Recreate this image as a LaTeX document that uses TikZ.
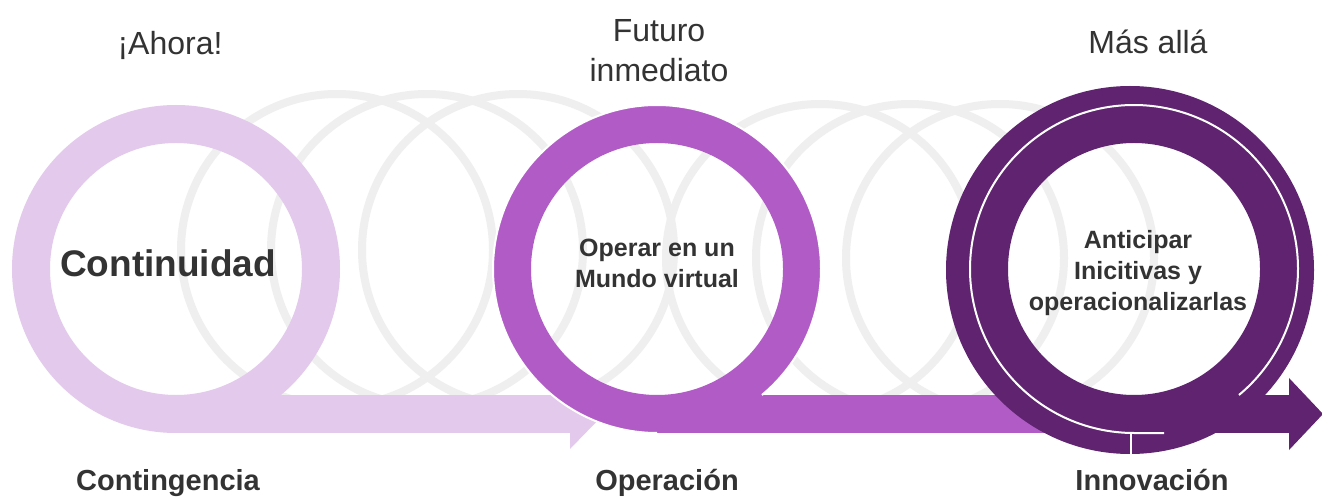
\documentclass[tikz,border=0pt]{standalone}
\usepackage{fontspec}
\setmainfont{Liberation Sans}
\definecolor{lila}{HTML}{E3C9EC}
\definecolor{orchid}{HTML}{B15CC6}
\definecolor{plum}{HTML}{5F2370}
\definecolor{ringgray}{HTML}{EFEFEF}
\definecolor{txt}{HTML}{333333}
\begin{document}
\begin{tikzpicture}[x=1pt,y=1pt,
  grayring/.style={draw=ringgray, line width=8pt},
  whiteline/.style={draw=white, line width=2pt},
  toplabel/.style={font=\fontsize{32}{40}\selectfont, text=txt, inner sep=0pt, align=center},
  bottomlabel/.style={font=\fontsize{29}{35}\selectfont\bfseries, text=txt, inner sep=0pt, anchor=base},
  inlabel/.style={font=\fontsize{25}{31}\selectfont\bfseries, text=txt, align=center, inner sep=0pt}]
\fill[white] (0,0) rectangle (1322,498);
\useasboundingbox (0,0) rectangle (1322,498);

% centres
\coordinate (c1) at (176,229);
\coordinate (c2) at (657,229);
\coordinate (c3) at (1134,229);
\coordinate (cbig) at (1130,228);

% faint coil rings
\draw[grayring] (337,248) circle[radius=156];
\draw[grayring] (427,248) circle[radius=156];
\draw[grayring] (518,248) circle[radius=156];
\draw[grayring] (820,240) circle[radius=154];
\draw[grayring] (910,240) circle[radius=154];
\draw[grayring] (1000,240) circle[radius=154];

% inner labels
\node[inlabel, font=\fontsize{37}{44}\selectfont\bfseries, anchor=base] (t1) at (168,221) {Continuidad};
\node[inlabel] (t2) at (657,235) {Operar en un\\Mundo virtual};
\node[inlabel] (t3) at (1138,225) {Anticipar\\Inicitivas y\\operacionalizarlas};

% Q 1
\fill[lila, even odd rule] (c1) circle[radius=164] (c1) circle[radius=126];
\fill[lila] (176,65) rectangle (570,103);
\fill[lila] (570,119) -- (604,84) -- (570,49) -- cycle;

% Q 2 (its arrow end runs under the third ring)
\fill[orchid, even odd rule] (c2) circle[radius=164] (c2) circle[radius=126];
\fill[orchid] (657,65) rectangle (1090,103);
\draw[whiteline] (c2) ++(-50.2:164) arc[start angle=-50.2, end angle=270, radius=164];

% Q 3
\fill[plum, even odd rule] (cbig) circle[radius=184] (c3) circle[radius=126];
\fill[plum] (1134,65) rectangle (1289,103);
\fill[plum] (1289,120) -- (1323,84) -- (1289,48) -- cycle;
\draw[whiteline] (c3) ++(-50.2:164) arc[start angle=-50.2, end angle=270, radius=164] -- ++(30,0);
\coordinate (tickA) at (1131,65);
\coordinate (tickB) at (1131,44);
\draw[whiteline] (tickA) -- (tickB);

% top labels
\node[toplabel, anchor=base] (h1) at (170,443) {¡Ahora!};
\node[toplabel] (h2) at (659,447) {Futuro\\inmediato};
\node[toplabel, anchor=base] (h3) at (1148,444) {Más allá};

% bottom labels
\node[bottomlabel] (b1) at (168,8) {Contingencia};
\node[bottomlabel] (b2) at (667,8) {Operación};
\node[bottomlabel] (b3) at (1152,8) {Innovación};
\end{tikzpicture}
\end{document}
